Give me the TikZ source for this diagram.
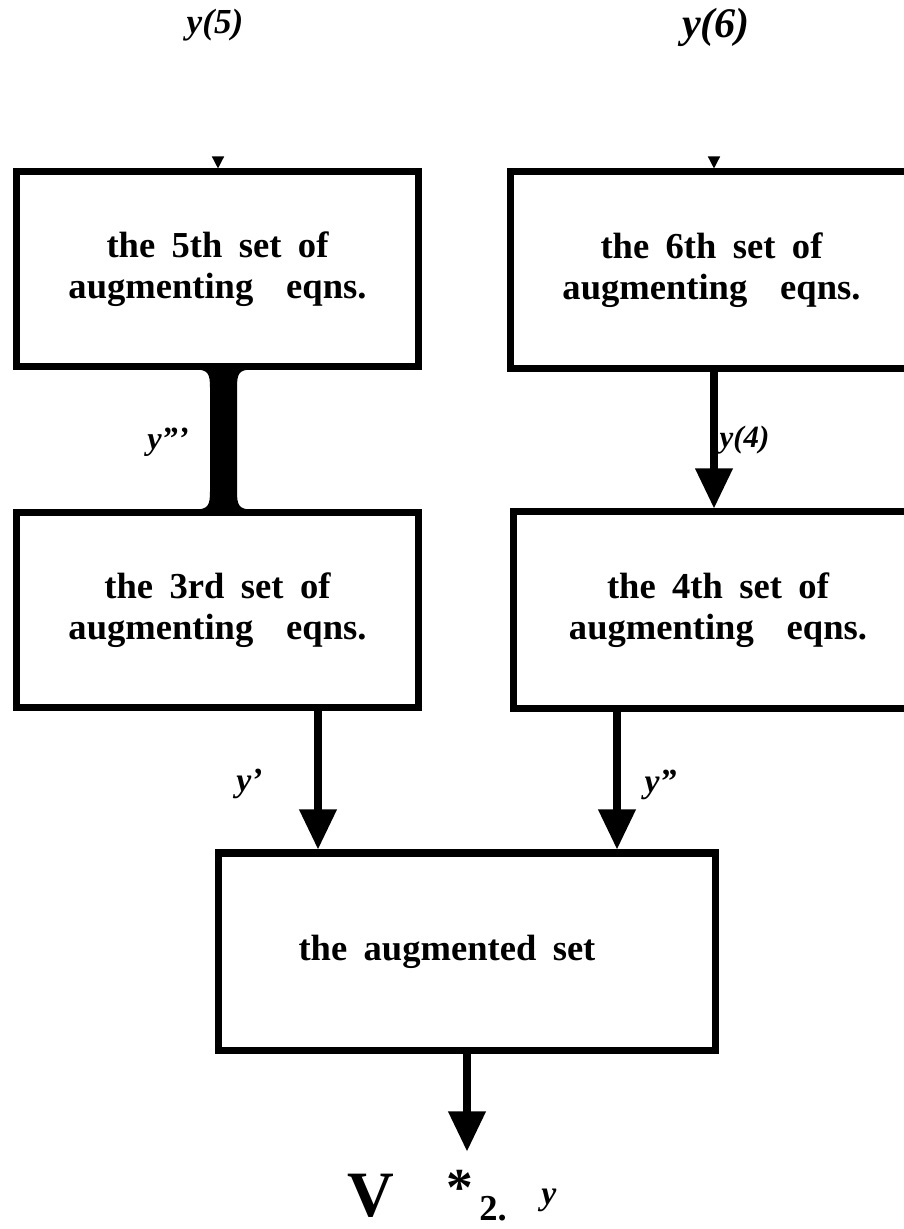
\documentclass[tikz,border=0pt]{standalone}
\usepackage{fontspec}
\setmainfont{Liberation Serif}
\usetikzlibrary{arrows.meta,positioning,calc}
\newcommand\wg{\hspace{.45em}}
\tikzset{
  blk/.style={draw,line width=5pt,inner sep=0pt,align=center,
              font=\fontsize{26}{29}\selectfont\bfseries},
  ar/.style ={-{Triangle[width=.9cm,length=1cm]},line width=5pt},
  sar/.style={-{Triangle[width=.3cm,length=.3cm]},line width=1pt},
  lbl/.style={inner sep=0pt,font=\fontsize{#1}{#1}\selectfont\bfseries\itshape},
  lbl/.default=24,
}

\begin{document}
\begin{tikzpicture}[x=.025cm,y=-.025cm]
  \useasboundingbox (0,0) rectangle (903,1229);
  % inputs
  \node[lbl=25] (in5) at (215,25) {y(5)};
  \node[lbl=30] (in6) at (716,27) {y(6)};
  \coordinate (t5) at (218,158);
  \coordinate (t6) at (714,158);
  % blocks
  \node[blk,minimum width=10.025cm,minimum height=4.85cm] (b5) at (217.5,269)
       {the\wg 5th\wg set\wg of\\augmenting\hspace{.9em}eqns.};
  \node[blk,minimum width=10.025cm,minimum height=4.9cm] (b6) at (711.5,270)
       {the\wg 6th\wg set\wg of\\augmenting\hspace{.9em}eqns.};
  \node[blk,minimum width=10.025cm,minimum height=4.85cm] (b3) at (217.5,610)
       {the\wg 3rd\wg set\wg of\\augmenting\hspace{.9em}eqns.};
  \node[blk,minimum width=10.2cm,minimum height=4.9cm] (b4) at (718,610)
       {the\wg 4th\wg set\wg of\\augmenting\hspace{.9em}eqns.};
  \node[blk,minimum width=12.425cm,minimum height=4.925cm] (aug) at (467,951.5)
       {the\wg augmented\wg set\hspace*{1cm}};
  % result
  \node[anchor=base west,inner sep=0pt,font=\fontsize{46}{46}\selectfont\bfseries] (vv) at (347,1216) {V};
  \node[anchor=base west,inner sep=0pt,font=\fontsize{38}{38}\selectfont\bfseries] (st) at (446,1205) {*};
  \node[anchor=base west,inner sep=0pt,font=\fontsize{26}{26}\selectfont\bfseries] (sb) at (479,1220) {2.};
  \node[lbl=24,anchor=base west] (yy) at (541,1204) {y};
  % connectors
  \draw[sar] (t5) -- (b5.north -| t5);
  \draw[sar] (t6) -- (b6.north -| t6);
  \coordinate (ib) at (223,0);
  \coordinate (p) at (b5.south -| ib);
  \coordinate (q) at (b3.north -| ib);
  \fill ($(p)+(-28,0)$) -- ($(p)+(29,0)$)
    .. controls ($(p)+(16,0)$) and ($(p)+(14,4)$) .. ($(p)+(14,18)$)
    -- ($(q)+(14,-18)$)
    .. controls ($(q)+(14,-4)$) and ($(q)+(16,0)$) .. ($(q)+(29,0)$)
    -- ($(q)+(-28,0)$)
    .. controls ($(q)+(-15,0)$) and ($(q)+(-13,-4)$) .. ($(q)+(-13,-18)$)
    -- ($(p)+(-13,18)$)
    .. controls ($(p)+(-13,4)$) and ($(p)+(-15,0)$) .. ($(p)+(-28,0)$) -- cycle;
  \node[lbl=23] (l3) at (168,442) {y'''};
  \coordinate (c1) at (318,0);
  \coordinate (c2) at (617,0);
  \coordinate (c4) at (714,0);
  \draw[ar] (b6.south -| c4) -- (b4.north -| c4) node[lbl=22,pos=.5,right=.05cm] {y(4)};
  \draw[ar] (b3.south -| c1) -- (aug.north -| c1) node[lbl,pos=.53,left=1.3cm] {y'};
  \draw[ar] (b4.south -| c2) -- (aug.north -| c2) node[lbl,pos=.53,right=.6cm] {y''};
  \draw[ar,shorten >=.45cm] (aug.south) -- (aug.south |- st.north);
\end{tikzpicture}
\end{document}
